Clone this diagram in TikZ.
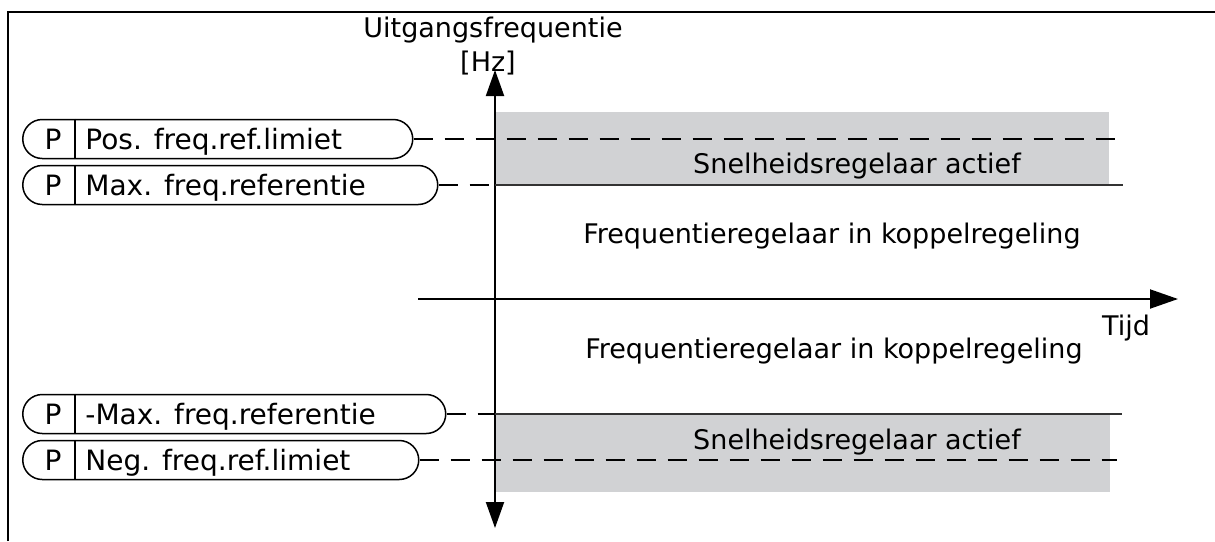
\documentclass[tikz,border=0pt]{standalone}
\usepackage{fontspec}
\setmainfont{DejaVu Sans}
\usetikzlibrary{shapes.misc,arrows.meta}
\definecolor{zonegrey}{RGB}{209,210,212}
\tikzset{
  pill/.style={rounded rectangle, draw, line width=0.75pt, minimum height=19.5pt, inner sep=0pt, anchor=west},
  lbl/.style={font=\fontsize{13.5}{16}\selectfont, inner sep=0pt, anchor=base},
  plbl/.style={font=\fontsize{14}{16}\selectfont, inner sep=0pt, anchor=base},
  limit/.style={line width=0.75pt, dash pattern=on 9.5pt off 6pt},
  refline/.style={line width=1pt, black!80},
  axis/.style={line width=1pt, {Triangle[length=13pt,width=9pt]}-{Triangle[length=13pt,width=9pt]}},
  taxis/.style={line width=1pt, -{Triangle[length=14pt,width=9.5pt]}},
}
\begin{document}
\begin{tikzpicture}[x=0.5pt,y=-0.5pt]
  \useasboundingbox (0,0) rectangle (1215,541);
  % 外框
  \draw[line width=0.75pt] (8,541) -- (8,12) -- (1215,12);
  % 灰色区域
  \fill[zonegrey] (496,112) rectangle (1109,185);
  \fill[zonegrey] (496,414) rectangle (1110,492);
  % 参数框
  \node[pill, minimum width=195pt]   (pos)  at (22,139) {};
  \node[pill, minimum width=207.5pt] (max)  at (22,185) {};
  \node[pill, minimum width=211.5pt] (mmax) at (22,414) {};
  \node[pill, minimum width=198pt]   (neg)  at (22,460) {};
  \coordinate (div) at (75,0);
  \foreach \p in {pos,max,mmax,neg}
    \draw[line width=0.75pt] (div |- \p.north) -- (div |- \p.south);
  \node[plbl] (posP)  at (53,149) {P};
  \node[plbl] (maxP)  at (53,195) {P};
  \node[plbl] (mmaxP) at (53,424) {P};
  \node[plbl] (negP)  at (53,470) {P};
  \node[plbl, anchor=base west] (posT)  at (85,149) {Pos. freq.ref.limiet};
  \node[plbl, anchor=base west] (maxT)  at (85,195) {Max. freq.referentie};
  \node[plbl, anchor=base west] (mmaxT) at (85,424) {-Max. freq.referentie};
  \node[plbl, anchor=base west] (negT)  at (85,470) {Neg. freq.ref.limiet};
  % 坐标轴
  \coordinate (ybot) at (495,528);
  \coordinate (ytop) at (495,70);
  \coordinate (xleft) at (418,299);
  \coordinate (xright) at (1178,299);
  \draw[axis] (ybot) -- (ytop);
  \draw[taxis] (xleft) -- (xright);
  \node[lbl] (ylabel) at (493,37) {Uitgangsfrequentie};
  \node[lbl] (yunit)  at (488,71) {[Hz]};
  \node[lbl] (xlabel) at (1126,335) {Tijd};
  % 限值线
  \coordinate (posend)  at (1123,139);
  \coordinate (maxend)  at (1123,185);
  \coordinate (mmaxend) at (1122,414);
  \coordinate (negend)  at (1117,460);
  \draw[limit] (pos.east) -- (posend);
  \draw[limit] (max.east) -- (max.east -| ybot);
  \draw[refline] (max.east -| ybot) -- (maxend);
  \draw[limit] (mmax.east) -- (mmax.east -| ybot);
  \draw[refline] (mmax.east -| ybot) -- (mmaxend);
  \draw[limit] (neg.east) -- (negend);
  % 区域文字
  \node[lbl] (speedtop) at (857,173) {Snelheidsregelaar actief};
  \node[lbl] (freqtop)  at (832,243) {Frequentieregelaar in koppelregeling};
  \node[lbl] (freqbot)  at (834,358) {Frequentieregelaar in koppelregeling};
  \node[lbl] (speedbot) at (857,449) {Snelheidsregelaar actief};
\end{tikzpicture}
\end{document}
